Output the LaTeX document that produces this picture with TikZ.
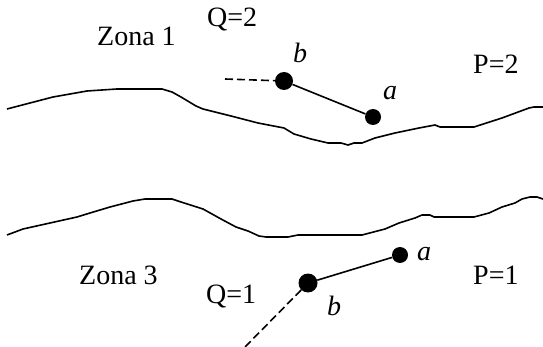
\documentclass[tikz,border=0pt]{standalone}
\usepackage{fontspec}
\setmainfont{Liberation Serif}
\begin{document}
\begin{tikzpicture}[x=1pt,y=-1pt,
  lbl/.style={anchor=base west,inner sep=0pt,font=\fontsize{28}{30}\selectfont},
  ball/.style={circle,fill=black,inner sep=0pt,minimum size=#1},
  ball/.default=17pt,
  ln/.style={line width=1.6pt},
  dsh/.style={line width=1.6pt,dash pattern=on 8pt off 4pt}]
\useasboundingbox (0,0) rectangle (543,347);
% boundaries
\draw[ln,line join=round] (7,109) -- (53,97) -- (87,91) -- (117,89) -- (162,89) -- (172,92) -- (181,97) -- (196,106) -- (203,109) -- (231,116) -- (258,123) -- (284,128) -- (294,134) -- (311,139) -- (328,143) -- (341,143) -- (348,145) -- (354,143) -- (362,143) -- (375,138) -- (395,133) -- (419,128) -- (435,125) -- (440,127) -- (474,127) -- (502,118) -- (529,108) -- (534,107) -- (543,107);
\draw[ln,line join=round] (7,235) -- (23,229) -- (77,217) -- (90,213) -- (110,207) -- (133,201) -- (145,199) -- (172,199) -- (181,202) -- (203,209) -- (221,219) -- (236,227) -- (248,231) -- (259,236) -- (266,237) -- (288,237) -- (298,235) -- (362,235) -- (385,229) -- (399,223) -- (415,218) -- (422,215) -- (430,215) -- (434,217) -- (474,217) -- (489,213) -- (502,207) -- (515,203) -- (522,199) -- (530,197) -- (537,197) -- (543,199);
% labels
\node[lbl] (zona1) at (97,46) {Zona 1};
\node[lbl] (q2) at (207,27) {Q=2};
\node[lbl] (p2) at (473,74) {P=2};
\node[lbl] (zona3) at (79,284) {Zona 3};
\node[lbl] (q1) at (206,303) {Q=1};
\node[lbl] (p1) at (473,284) {P=1};
\node[lbl] (lb2) at (293,63) {\textit{b}};
\node[lbl] (la2) at (383,100) {\textit{a}};
\node[lbl] (la1) at (417,261) {\textit{a}};
\node[lbl] (lb1) at (327,315) {\textit{b}};
% balls
\node[ball=18pt] (b2) at (284,81) {};
\node[ball=16pt] (a2) at (373,117) {};
\node[ball=16pt] (a1) at (400,255) {};
\node[ball=19pt] (b1) at (308,283) {};
\coordinate (d2) at (225,79);
\coordinate (d1) at (245,347);
\draw[ln] (b2) -- (a2);
\draw[ln] (b1) -- (a1);
\draw[dsh] (d2) -- (b2);
\draw[dsh] (b1) -- (d1);
\end{tikzpicture}
\end{document}
